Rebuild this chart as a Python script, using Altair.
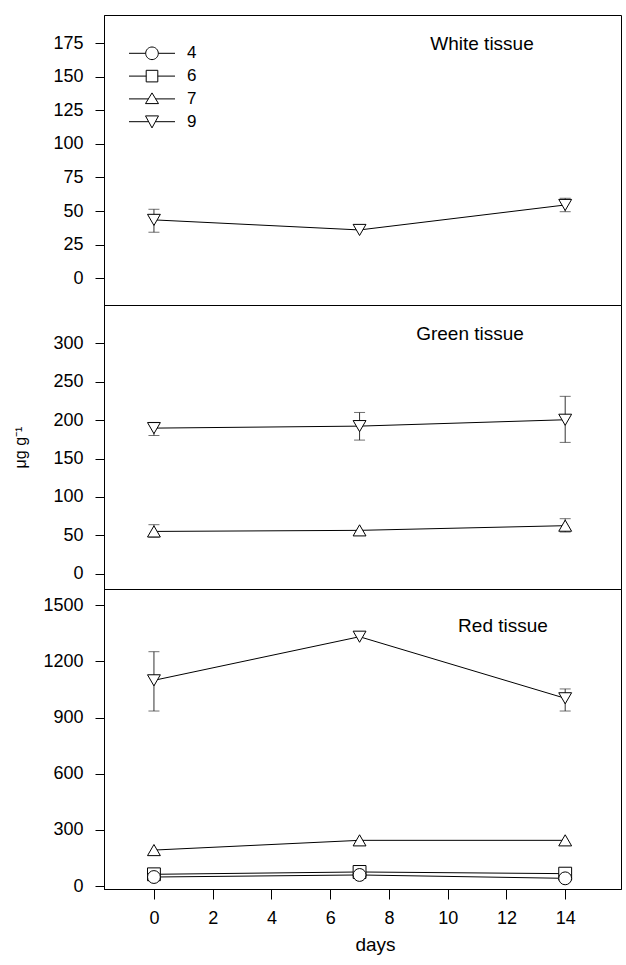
import altair as alt
import pandas as pd

# ---------------- data ----------------
days = [0, 7, 14]
series_names = ["4", "6", "7", "9"]
marker_shapes = ["circle", "square", "triangle-up", "triangle-down"]

white_9 = [43.4, 35.9, 54.5]
white_9_lo = [34.2, None, 49.5]
white_9_hi = [51.3, None, 59.5]

green_9 = [189.6, 192.2, 200.5]
green_9_lo = [180.0, 174.0, 171.0]
green_9_hi = [197.0, 210.0, 231.0]
green_7 = [55.0, 56.4, 62.5]
green_7_lo = [47.6, None, 54.2]
green_7_hi = [63.8, None, 71.6]

red_9 = [1099, 1332, 1003]
red_9_lo = [935, None, 935]
red_9_hi = [1252, None, 1053]
red_7 = [192, 244, 244]
red_6 = [62.5, 75, 66]
red_4 = [48, 59, 41]

panel_titles = ["White tissue", "Green tissue", "Red tissue"]
white_ticks = [0, 25, 50, 75, 100, 125, 150, 175]
green_ticks = [0, 50, 100, 150, 200, 250, 300]
red_ticks = [0, 300, 600, 900, 1200, 1500]
x_ticks = [0, 2, 4, 6, 8, 10, 12, 14]


def rows(series, values, lo=None, hi=None):
    out = []
    for i, d in enumerate(days):
        out.append({
            "series": series,
            "day": d,
            "value": values[i],
            "lo": None if lo is None else lo[i],
            "hi": None if hi is None else hi[i],
        })
    return out


white_df = pd.DataFrame(rows("9", white_9, white_9_lo, white_9_hi))
green_df = pd.DataFrame(rows("9", green_9, green_9_lo, green_9_hi)
                        + rows("7", green_7, green_7_lo, green_7_hi))
red_df = pd.DataFrame(rows("9", red_9, red_9_lo, red_9_hi)
                      + rows("7", red_7) + rows("6", red_6) + rows("4", red_4))

# legend symbols: marker with a line through (unit = 10 px at symbolSize 400)
legend_paths = [
    "M-2.3,0H-0.63M0.63,0H2.3M-0.63,0A0.63,0.63,0,1,0,0.63,0A0.63,0.63,0,1,0,-0.63,0Z",
    "M-2.3,0H-0.58M0.58,0H2.3M-0.58,-0.58H0.58V0.58H-0.58Z",
    "M-2.3,0H-0.36M0.36,0H2.3M0,-0.6L0.65,0.47H-0.65Z",
    "M-2.3,0H-0.34M0.34,0H2.3M0,0.62L0.65,-0.58H-0.65Z",
]

FONT = "Liberation Sans"
W = 517
X_DOMAIN = [-1.7, 15.9]


def panel(df, ydomain, yticks, height, title, title_xy, show_x=False,
          ytitle=None, legend=False):
    if show_x:
        xaxis = alt.Axis(values=x_ticks, title="days", tickSize=10,
                         labelPadding=10, labelFontSize=18, titleFontSize=19,
                         titleFontWeight="normal", titlePadding=8,
                         titleX=271, grid=False, labelFlush=False, format="d")
        x = alt.X("day:Q", scale=alt.Scale(domain=X_DOMAIN, nice=False, zero=False),
                  axis=xaxis)
    else:
        x = alt.X("day:Q", scale=alt.Scale(domain=X_DOMAIN, nice=False, zero=False),
                  axis=None)
    ykw = dict(values=yticks, tickSize=9, labelPadding=12, labelFontSize=18,
               grid=False, labelFlush=False, format="d")
    if ytitle:
        ykw.update(title=ytitle, titleFontSize=16, titleFontWeight="normal",
                   titlePadding=24)
    else:
        ykw.update(title="")
    y = alt.Y("value:Q", scale=alt.Scale(domain=ydomain, nice=False, zero=False),
              axis=alt.Axis(**ykw))

    base = alt.Chart(df)
    err = base.transform_filter("isValid(datum.lo)")
    rule = err.mark_rule(color="#333333", strokeWidth=1).encode(
        x=x, y=alt.Y("lo:Q"), y2="hi:Q")
    cap_lo = err.mark_tick(orient="horizontal", size=11, thickness=1,
                           color="#333333").encode(x=x, y=alt.Y("lo:Q"))
    cap_hi = err.mark_tick(orient="horizontal", size=11, thickness=1,
                           color="#333333").encode(x=x, y=alt.Y("hi:Q"))
    line = base.mark_line(color="black", strokeWidth=1).encode(
        x=x, y=y, detail="series:N")
    pts = base.mark_point(filled=True, fill="white", stroke="black",
                          strokeWidth=1, opacity=1, size=165).encode(
        x=x, y=y,
        shape=alt.Shape("series:N",
                        scale=alt.Scale(domain=series_names, range=marker_shapes),
                        legend=None))
    label = base.mark_text(fontSize=19, font=FONT, color="black",
                           align="center", baseline="middle").encode(
        x=alt.value(title_xy[0]), y=alt.value(title_xy[1]),
        text=alt.value(title)).transform_filter("datum.day == 0 && datum.series == '9'")
    layers = [rule, cap_lo, cap_hi, line, pts, label]
    if legend:
        leg = base.transform_filter("false").mark_point(
            filled=True, fill="white", stroke="black", strokeWidth=1,
            opacity=1).encode(
            x=x, y=y,
            shape=alt.Shape("series:N",
                            scale=alt.Scale(domain=series_names, range=legend_paths),
                            legend=alt.Legend(orient="none", legendX=37.5,
                                              legendY=27.8, padding=0,
                                              title=None, symbolSize=400,
                                              symbolStrokeWidth=1,
                                              rowPadding=3.8, labelOffset=24.5,
                                              labelFontSize=17, labelFont=FONT,
                                              labelColor="black")))
        layers.append(leg)
    ch = alt.layer(*layers).properties(width=W, height=height)
    if legend:
        ch = ch.resolve_scale(shape="independent")
    return ch


top = panel(white_df, [-20, 196], white_ticks, 290, panel_titles[0], (378, 29),
            legend=True)
mid = panel(green_df, [-20, 350], green_ticks, 284, panel_titles[1], (366, 29),
            ytitle="μg g⁻¹")
bot = panel(red_df, [-16, 1587], red_ticks, 300, panel_titles[2], (399, 37),
            show_x=True)

chart = alt.vconcat(top, mid, bot, spacing=0, bounds="flush").resolve_scale(
    shape="independent", y="independent"
).properties(
    padding={"left": 12, "top": 14, "right": 4, "bottom": 5},
    background="white",
).configure_view(
    stroke="black", strokeWidth=1
).configure_axis(
    domainColor="black", tickColor="black", labelColor="black",
    titleColor="black", labelFont=FONT, titleFont=FONT
).configure_text(font=FONT)

chart.save("out.html", embed_options={"renderer": "svg", "actions": False})
